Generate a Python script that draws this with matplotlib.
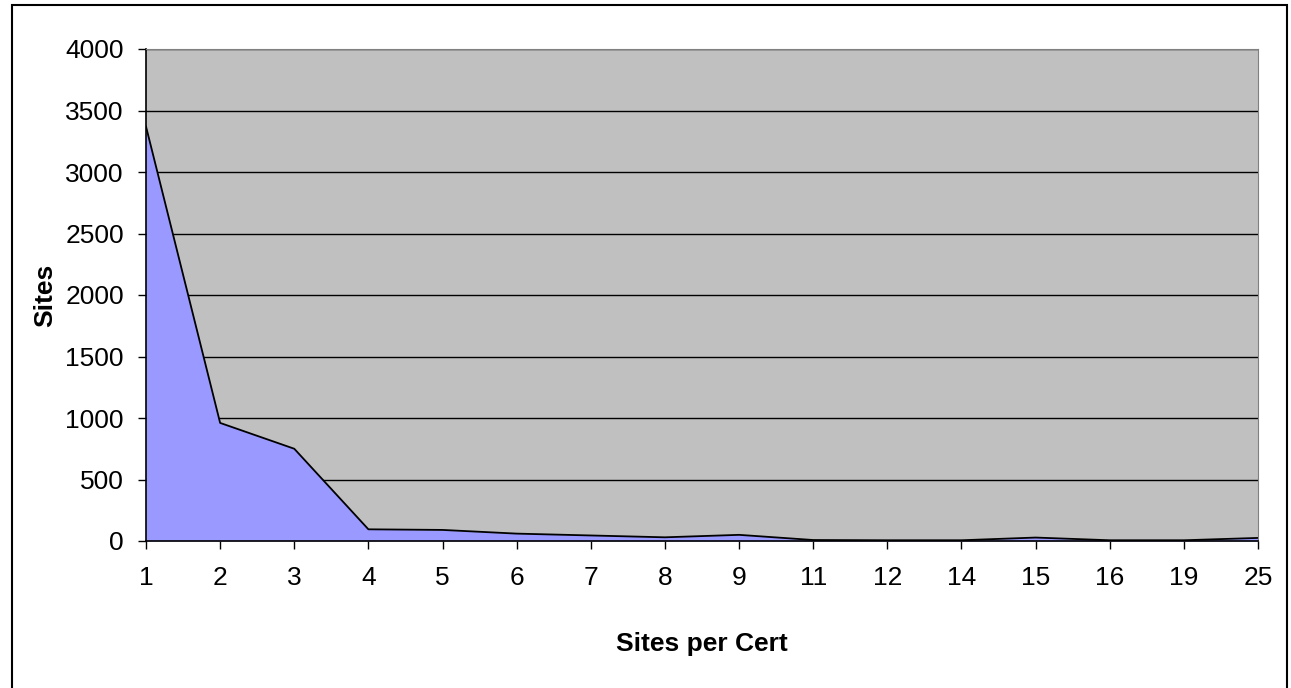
import numpy as np
import matplotlib.pyplot as plt
from matplotlib.patches import Rectangle

plt.rcParams['font.family'] = ['Liberation Sans Narrow', 'Liberation Sans', 'DejaVu Sans']

cats = ['1', '2', '3', '4', '5', '6', '7', '8', '9', '11', '12', '14', '15', '16', '19', '25']
sites = [3370, 960, 750, 95, 90, 60, 45, 30, 50, 8, 6, 6, 28, 6, 6, 25]

x = np.arange(len(cats))

fig = plt.figure(figsize=(12.91, 6.88), dpi=100)
ax = fig.add_axes([146 / 1291, (688 - 541) / 688, (1258 - 146) / 1291, (541 - 49) / 688])

# outer chart frame
fig.patches.append(Rectangle((12 / 1291, -0.01), (1287 - 12) / 1291, (683 + 0.01 * 688) / 688,
                             transform=fig.transFigure, fill=False, edgecolor='black', lw=1.5))

ax.set_facecolor('#C0C0C0')
ax.fill_between(x, sites, 0, color='#9999FF', lw=0)
ax.plot(x, sites, color='black', lw=1.3)

ax.set_xlim(0, len(cats) - 1)
ax.set_ylim(0, 4000)
ax.set_yticks(np.arange(0, 4001, 500))
ax.set_xticks(x)
ax.set_xticklabels(cats)
ax.yaxis.grid(True, color='black', lw=1)
ax.set_axisbelow(True)

for s in ['top', 'right']:
    ax.spines[s].set_color('#808080')
for s in ['left', 'bottom']:
    ax.spines[s].set_color('black')
    ax.spines[s].set_linewidth(1.2)

ax.tick_params(axis='both', labelsize=19, length=6, width=1, direction='out')
ax.tick_params(axis='x', pad=12)
ax.tick_params(axis='y', pad=10)

ax.set_xlabel('Sites per Cert', fontsize=19, fontweight='bold', labelpad=30)
ax.set_ylabel('Sites', fontsize=19, fontweight='bold', labelpad=6)

fig.savefig('out.png', dpi=100)
